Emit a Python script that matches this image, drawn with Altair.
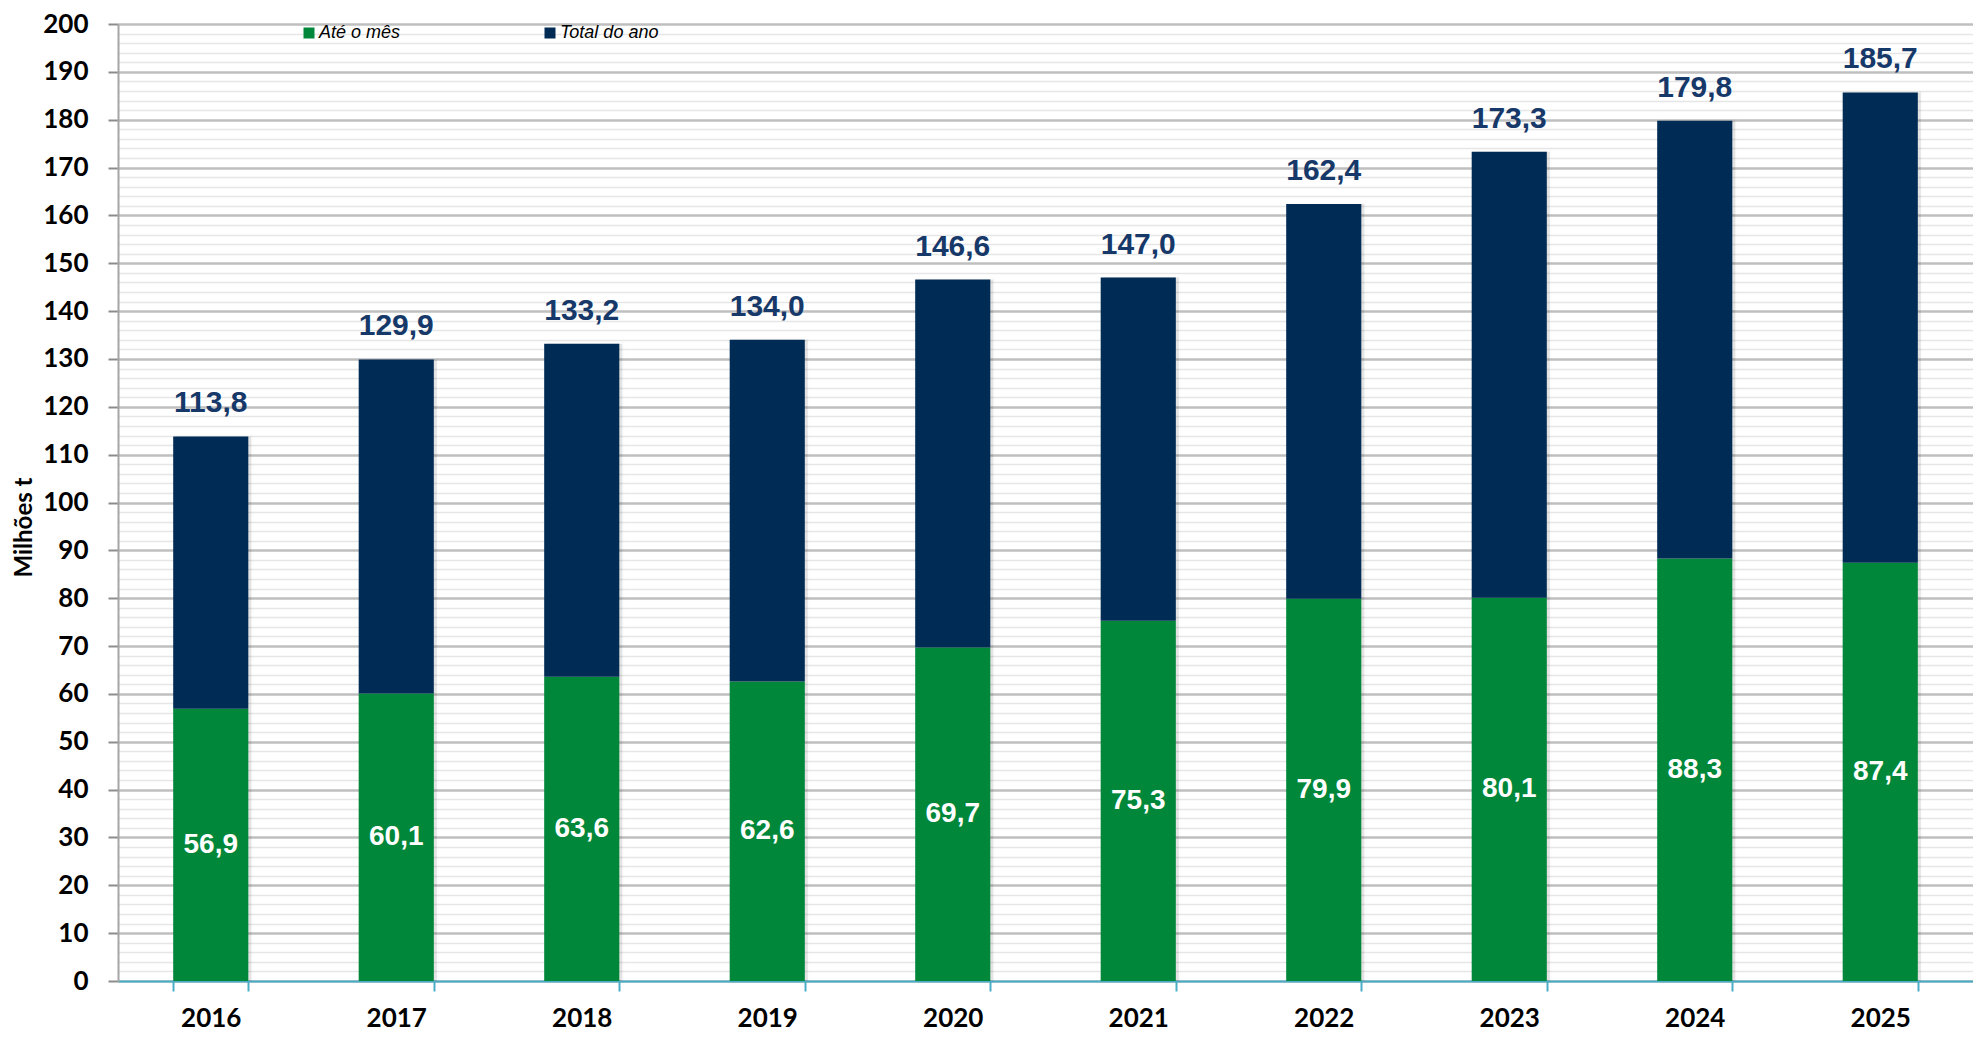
import altair as alt
import pandas as pd

years = ["2016", "2017", "2018", "2019", "2020", "2021", "2022", "2023", "2024", "2025"]
ate_o_mes = [56.9, 60.1, 63.6, 62.6, 69.7, 75.3, 79.9, 80.1, 88.3, 87.4]
total_ano = [113.8, 129.9, 133.2, 134.0, 146.6, 147.0, 162.4, 173.3, 179.8, 185.7]
series = ["Até o mês", "Total do ano"]
colors = ["#00873A", "#002B55"]

rows = []
for yr, a, t in zip(years, ate_o_mes, total_ano):
    rows.append({"ano": yr, "serie": series[0], "y0": 0.0, "y1": a, "valor": a})
    rows.append({"ano": yr, "serie": series[1], "y0": a, "y1": t, "valor": t})
df = pd.DataFrame(rows)
df["rotulo"] = df["valor"].map(lambda v: f"{v:.1f}".replace(".", ","))

W = 1855
H = 957

x_scale = alt.Scale(paddingInner=0.595, paddingOuter=0.2975)
x_axis = alt.Axis(
    title=None,
    labelAngle=0,
    labelFont="Lato",
    labelFontWeight="bold",
    labelFontSize=26,
    labelColor="#000000",
    labelPadding=14,
    domainColor="#4BACC6",
    domainWidth=2,
    tickColor="#4BACC6",
    tickWidth=2,
    tickSize=10,
    tickBand="extent",
    grid=False,
)

major = "datum.value % 10 === 0"
y_axis = alt.Axis(
    values=list(range(0, 201, 2)),
    title="Milhões  t",
    titleFont="Lato",
    titleFontWeight="bold",
    titleFontSize=24,
    titleColor="#000000",
    titleX=-94,
    titleY=503,
    titleAngle=270,
    titleAlign="center",
    titleBaseline="middle",
    labelExpr=f"{major} ? datum.label : ''",
    labelOverlap=False,
    labelFont="Lato",
    labelFontWeight="bold",
    labelFontSize=26,
    labelColor="#000000",
    labelPadding=20,
    domainColor="#A6A6A6",
    domainWidth=2,
    tickColor="#8C8C8C",
    tickWidth=2,
    tickSize=10,
    tickOpacity=alt.condition(major, alt.value(1), alt.value(0)),
    grid=True,
    gridColor=alt.condition(major, alt.value("#BFBFBF"), alt.value("#E6E6E6")),
    gridWidth=alt.condition(major, alt.value(2.5), alt.value(1.5)),
)

y_scale = alt.Scale(domain=[0, 200], nice=False, zero=True)


def xe():
    return alt.X("ano:N", sort=years, scale=x_scale, axis=x_axis)


def ye(field):
    return alt.Y(field, scale=y_scale, axis=y_axis, title="Milhões  t")


base = alt.Chart(df)

shadow = (
    base.transform_filter(alt.datum.serie == series[1])
    .mark_bar(
        color="#000000",
        opacity=0.10,
        stroke="#000000",
        strokeWidth=4,
        strokeOpacity=0.05,
        xOffset=3,
    )
    .encode(x=xe(), y=ye("valor:Q"), y2=alt.datum(0))
)

bars = base.mark_bar().encode(
    x=xe(),
    y=ye("y0:Q"),
    y2="y1:Q",
    color=alt.Color(
        "serie:N",
        scale=alt.Scale(domain=series, range=colors),
        legend=alt.Legend(
            orient="none",
            legendX=182,
            legendY=0,
            direction="horizontal",
            title=None,
            symbolType="square",
            symbolSize=121,
            symbolStrokeWidth=0,
            labelFont="Liberation Sans",
            labelFontStyle="italic",
            labelFontSize=18,
            labelColor="#000000",
            labelOffset=1,
            columnPadding=140,
            padding=0,
        ),
    ),
)

inner_labels = (
    base.transform_filter(alt.datum.serie == series[0])
    .transform_calculate(meio="datum.valor / 2")
    .mark_text(
        font="Liberation Sans",
        fontWeight="bold",
        fontSize=28,
        color="#FFFFFF",
        baseline="middle",
        align="center",
    )
    .encode(x=xe(), y=ye("meio:Q"), text="rotulo:N")
)

top_labels = (
    base.transform_filter(alt.datum.serie == series[1])
    .mark_text(
        font="Liberation Sans",
        fontWeight="bold",
        fontSize=30,
        color="#17396A",
        baseline="alphabetic",
        align="center",
        dy=-24,
    )
    .encode(x=xe(), y=ye("valor:Q"), text="rotulo:N")
)

chart = (
    alt.layer(shadow, bars, inner_labels, top_labels)
    .properties(
        width=W,
        height=H,
        autosize=alt.AutoSizeParams(type="none"),
        padding={"left": 110, "top": 16, "right": 0, "bottom": 51},
        background="#FFFFFF",
    )
    .configure_view(stroke=None)
)

chart.save("out.html", embed_options={"renderer": "svg", "actions": False})
